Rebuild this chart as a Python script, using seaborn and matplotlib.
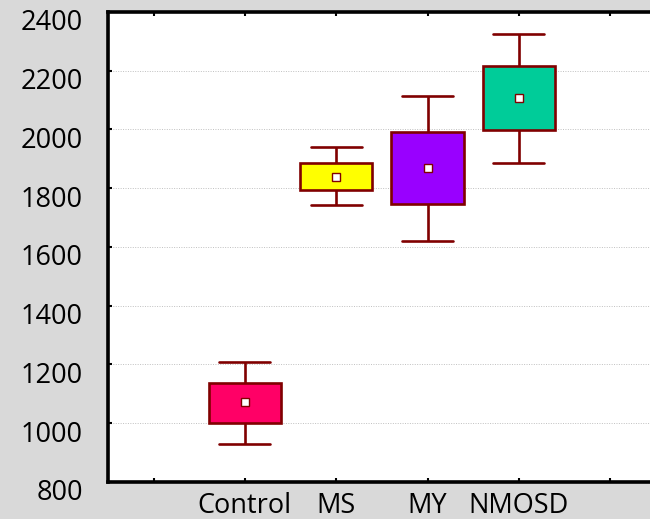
import pandas as pd
import matplotlib
matplotlib.use("Agg")
import matplotlib.pyplot as plt
import matplotlib.transforms as mtransforms
import seaborn as sns

# Values
groups = ['Control', 'MS', 'MY', 'NMOSD']
whisker_low = [929, 1741, 1621, 1884]
q1 = [1002, 1794, 1747, 1998]
median = [1071, 1837, 1870, 2106]
q3 = [1138, 1886, 1990, 2215]
whisker_high = [1210, 1939, 2114, 2324]
box_colors = ['#FF0066', '#FFFF00', '#9900FF', '#00CC99']

# empty slots at both ends, as in the original
order = [''] + groups + [' ']
tick_labels = ['', 'Control', 'MS', 'MY', 'NMOSD', '']
edge = '#800000'

# Five values per group give exactly these quartiles / whisker ends
rows = []
for i, g in enumerate(groups):
    for v in (whisker_low[i], q1[i], median[i], q3[i], whisker_high[i]):
        rows.append({'Group': g, 'Value': v})
df = pd.DataFrame(rows)

sns.set_style('white')
plt.rcParams['font.family'] = ['Open Sans', 'DejaVu Sans']

fig = plt.figure(figsize=(6.5, 5.19), dpi=100, facecolor='#d9d9d9')
ax = fig.add_axes([0.166, 0.0713, 0.843, 0.906])
ax.set_facecolor('white')

sns.boxplot(data=df, x='Group', y='Value', hue='Group', order=order,
            hue_order=groups, palette=box_colors, saturation=1, legend=False,
            whis=(0, 100), width=0.79, capwidths=0.56, linecolor=edge,
            linewidth=1.9, medianprops={'visible': False}, ax=ax)

sns.pointplot(data=df, x='Group', y='Value', order=order, estimator='median',
              errorbar=None, linestyle='none', marker='s', markersize=5.5,
              color='white', markeredgecolor=edge, markeredgewidth=1.0,
              ax=ax, zorder=5)

ax.set_ylim(800, 2400)
ax.set_yticks(range(800, 2401, 200))
ax.set_xlim(-0.5, 5.5)
ax.set_xticks(range(6))
ax.set_xticklabels(tick_labels)
ax.set_xlabel('')
ax.set_ylabel('')

ax.yaxis.grid(True, linestyle=(0, (1, 1.5)), color='#c0c0c0', linewidth=0.7)
ax.set_axisbelow(True)

for side in ['left', 'bottom', 'top', 'right']:
    ax.spines[side].set_color('black')
    ax.spines[side].set_linewidth(2.6)

ax.tick_params(axis='y', direction='in', length=3, width=1.5, left=True,
               pad=18, labelsize=19.5, colors='black')
ax.tick_params(axis='x', direction='in', length=3, width=1.5, bottom=True,
               top=True, pad=7, labelsize=19.5, colors='black')

# y labels sit a little below their ticks in the original
shift = mtransforms.ScaledTranslation(0, -8 / 100, fig.dpi_scale_trans)
for lab in ax.get_yticklabels():
    lab.set_transform(lab.get_transform() + shift)

fig.savefig('out.png', dpi=100, facecolor=fig.get_facecolor())
